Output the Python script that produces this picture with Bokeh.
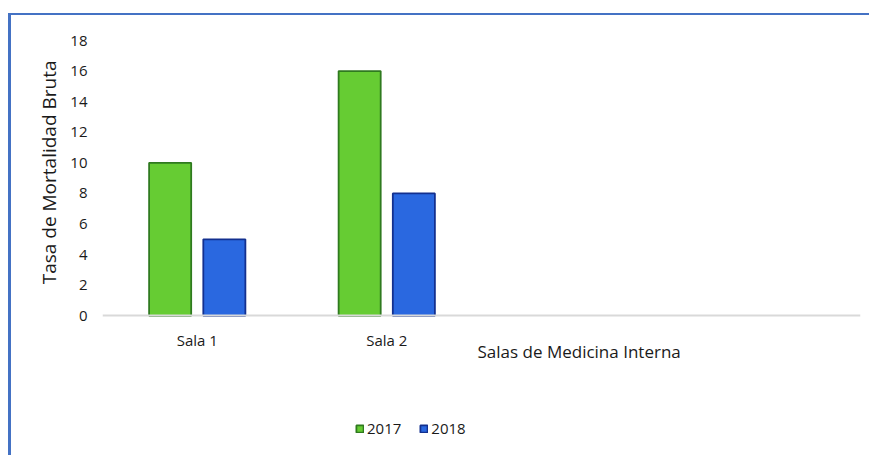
from bokeh.plotting import figure
from bokeh.models import FactorRange, Range1d, Legend, LegendItem, Label, FixedTicker, Title
from bokeh.transform import dodge
from bokeh.embed import file_html
from bokeh.resources import INLINE

categories = ["Sala 1", "Sala 2", " ", "  "]
bar_categories = ["Sala 1", "Sala 2"]
series_2017 = [10, 16]
series_2018 = [5, 8]
y_ticks = [0, 2, 4, 6, 8, 10, 12, 14, 16, 18]

FONT = "Open Sans"
BORDER = "#4472C4"
TXT = "#1a1a1a"

p = figure(
    x_range=FactorRange(*categories), y_range=Range1d(-9.263, 18),
    width=858, height=440, output_backend="svg", toolbar_location=None,
    min_border_left=91, min_border_right=12, min_border_top=25, min_border_bottom=0,
)
p.margin = (13, 0, 0, 8)
p.styles = {"border-top": f"2px solid {BORDER}", "border-left": f"3px solid {BORDER}",
            "box-sizing": "content-box"}
p.outline_line_color = None
p.grid.visible = False

data = dict(cat=bar_categories, a=series_2017, b=series_2018)
r1 = p.vbar(x=dodge("cat", -0.143, range=p.x_range), top="a", width=0.222, source=data,
            fill_color="#66CC33", line_color="#2F7A1F", line_width=1.8)
r2 = p.vbar(x=dodge("cat", 0.143, range=p.x_range), top="b", width=0.222, source=data,
            fill_color="#2A68E0", line_color="#13308F", line_width=1.8)

p.yaxis.ticker = FixedTicker(ticks=y_ticks)
p.yaxis.axis_line_color = None
p.yaxis.major_tick_line_color = None
p.yaxis.minor_tick_line_color = None
p.yaxis.major_tick_out = 0
p.yaxis.major_label_standoff = 15
p.yaxis.major_label_text_font = FONT
p.yaxis.major_label_text_font_size = "15px"
p.yaxis.major_label_text_color = TXT

p.add_layout(Title(text="Tasa de Mortalidad Bruta", align="right", offset=20, standoff=12,
                   text_font=FONT, text_font_style="normal", text_font_size="19px",
                   text_color=TXT), "left")

p.xaxis.fixed_location = 0
p.xaxis.axis_line_color = "#D9D9D9"
p.xaxis.axis_line_width = 2
p.xaxis.major_tick_line_color = None
p.xaxis.minor_tick_line_color = None
p.xaxis.major_tick_out = 0
p.xaxis.major_label_standoff = 14
p.xaxis.major_label_text_font = FONT
p.xaxis.major_label_text_font_size = "15px"
p.xaxis.major_label_text_color = TXT

p.add_layout(Label(x=1.979, y=-2.365, text="Salas de Medicina Interna", text_font=FONT,
                   text_font_size="17px", text_color=TXT, text_baseline="middle"))

legend = Legend(items=[LegendItem(label="2017", renderers=[r1]), LegendItem(label="2018", renderers=[r2])],
                orientation="horizontal", location=(253, 19), glyph_width=9, glyph_height=9,
                label_standoff=3, spacing=18, padding=0, margin=0,
                border_line_color=None, background_fill_alpha=0,
                label_text_font=FONT, label_text_font_size="15px", label_text_color=TXT)
p.add_layout(legend)

open("out.html", "w").write(file_html(p, INLINE))
